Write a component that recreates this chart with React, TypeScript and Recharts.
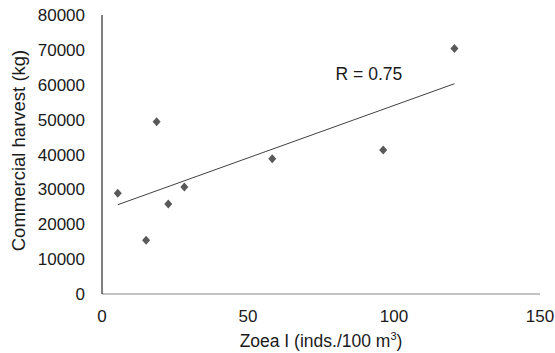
import React from 'react';
import { ScatterChart, Scatter, XAxis, YAxis, ReferenceLine, ReferenceDot } from 'recharts';

const zoeaDensity = [5.4, 15.1, 18.7, 22.7, 28.2, 58.3, 96.3, 120.7];
const harvestKg = [28900, 15400, 49400, 25800, 30700, 38800, 41300, 70400];
const trendStart = { x: 5.4, y: 25600 };
const trendEnd = { x: 120.7, y: 60300 };
const xTicks = [0, 50, 100, 150];
const yTicks = [0, 10000, 20000, 30000, 40000, 50000, 60000, 70000, 80000];
const correlationText = 'R = 0.75';

const points = zoeaDensity.map((x, i) => ({ x, y: harvestKg[i] }));

const FONT = '"Liberation Sans", Arial, sans-serif';

const Diamond = (props: any) => {
  const { cx, cy } = props;
  if (cx == null || cy == null) return null;
  return (
    <polygon
      points={`${cx},${cy - 4.5} ${cx + 4},${cy} ${cx},${cy + 4.5} ${cx - 4},${cy}`}
      fill="#595959"
    />
  );
};

const XTitle = (props: any) => {
  const { viewBox } = props;
  const cx = viewBox.x + viewBox.width / 2;
  return (
    <text x={cx} y={viewBox.y + 53} textAnchor="middle" fontFamily={FONT} fontSize={17.5} fill="#1a1a1a">
      Zoea I (inds./100 m
      <tspan fontSize={11} dy={-7}>3</tspan>
      <tspan dy={7}>)</tspan>
    </text>
  );
};

const YTitle = (props: any) => {
  const { viewBox } = props;
  const cy = viewBox.y + viewBox.height / 2 - 4;
  return (
    <text
      x={25}
      y={cy}
      transform={`rotate(-90, 25, ${cy})`}
      textAnchor="middle"
      fontFamily={FONT}
      fontSize={18.5}
      fill="#1a1a1a"
    >
      Commercial harvest (kg)
    </text>
  );
};

const RLabel = (props: any) => {
  const { viewBox } = props;
  return (
    <text x={viewBox.x} y={viewBox.y} fontFamily={FONT} fontSize={17.5} fill="#1a1a1a">
      {correlationText}
    </text>
  );
};

const App = () => {
  const tickStyle = { fontSize: 17, fontFamily: FONT, fill: '#1a1a1a' };
  return (
    <div style={{ position: 'absolute', left: 0, top: 0, width: 555, height: 353, background: '#fff' }}>
      <ScatterChart width={555} height={353} margin={{ top: 15, right: 15, bottom: 0, left: 0 }}>
        <XAxis
          type="number"
          dataKey="x"
          domain={[0, 150]}
          ticks={xTicks}
          tick={tickStyle}
          tickLine={false}
          tickSize={0}
          tickMargin={16}
          axisLine={{ stroke: '#868686' }}
          height={59}
          label={{ content: XTitle }}
        />
        <XAxis
          xAxisId="top"
          orientation="top"
          type="number"
          domain={[0, 150]}
          tick={false}
          tickLine={false}
          axisLine={{ stroke: '#222' }}
          height={0}
        />
        <YAxis
          type="number"
          dataKey="y"
          domain={[0, 80000]}
          ticks={yTicks}
          tick={tickStyle}
          tickLine={false}
          tickSize={0}
          tickMargin={17}
          axisLine={{ stroke: '#000' }}
          width={102}
          label={{ content: YTitle }}
        />
        <YAxis
          yAxisId="right"
          orientation="right"
          type="number"
          domain={[0, 80000]}
          tick={false}
          tickLine={false}
          axisLine={{ stroke: '#222' }}
          width={0}
        />
        <ReferenceLine
          segment={[trendStart, trendEnd]}
          stroke="#404040"
          strokeWidth={1}
        />
        <ReferenceDot x={80} y={61400} r={0} stroke="none" label={{ content: RLabel }} />
        <Scatter data={points} shape={<Diamond />} isAnimationActive={false} />
      </ScatterChart>
    </div>
  );
};

export default App;
